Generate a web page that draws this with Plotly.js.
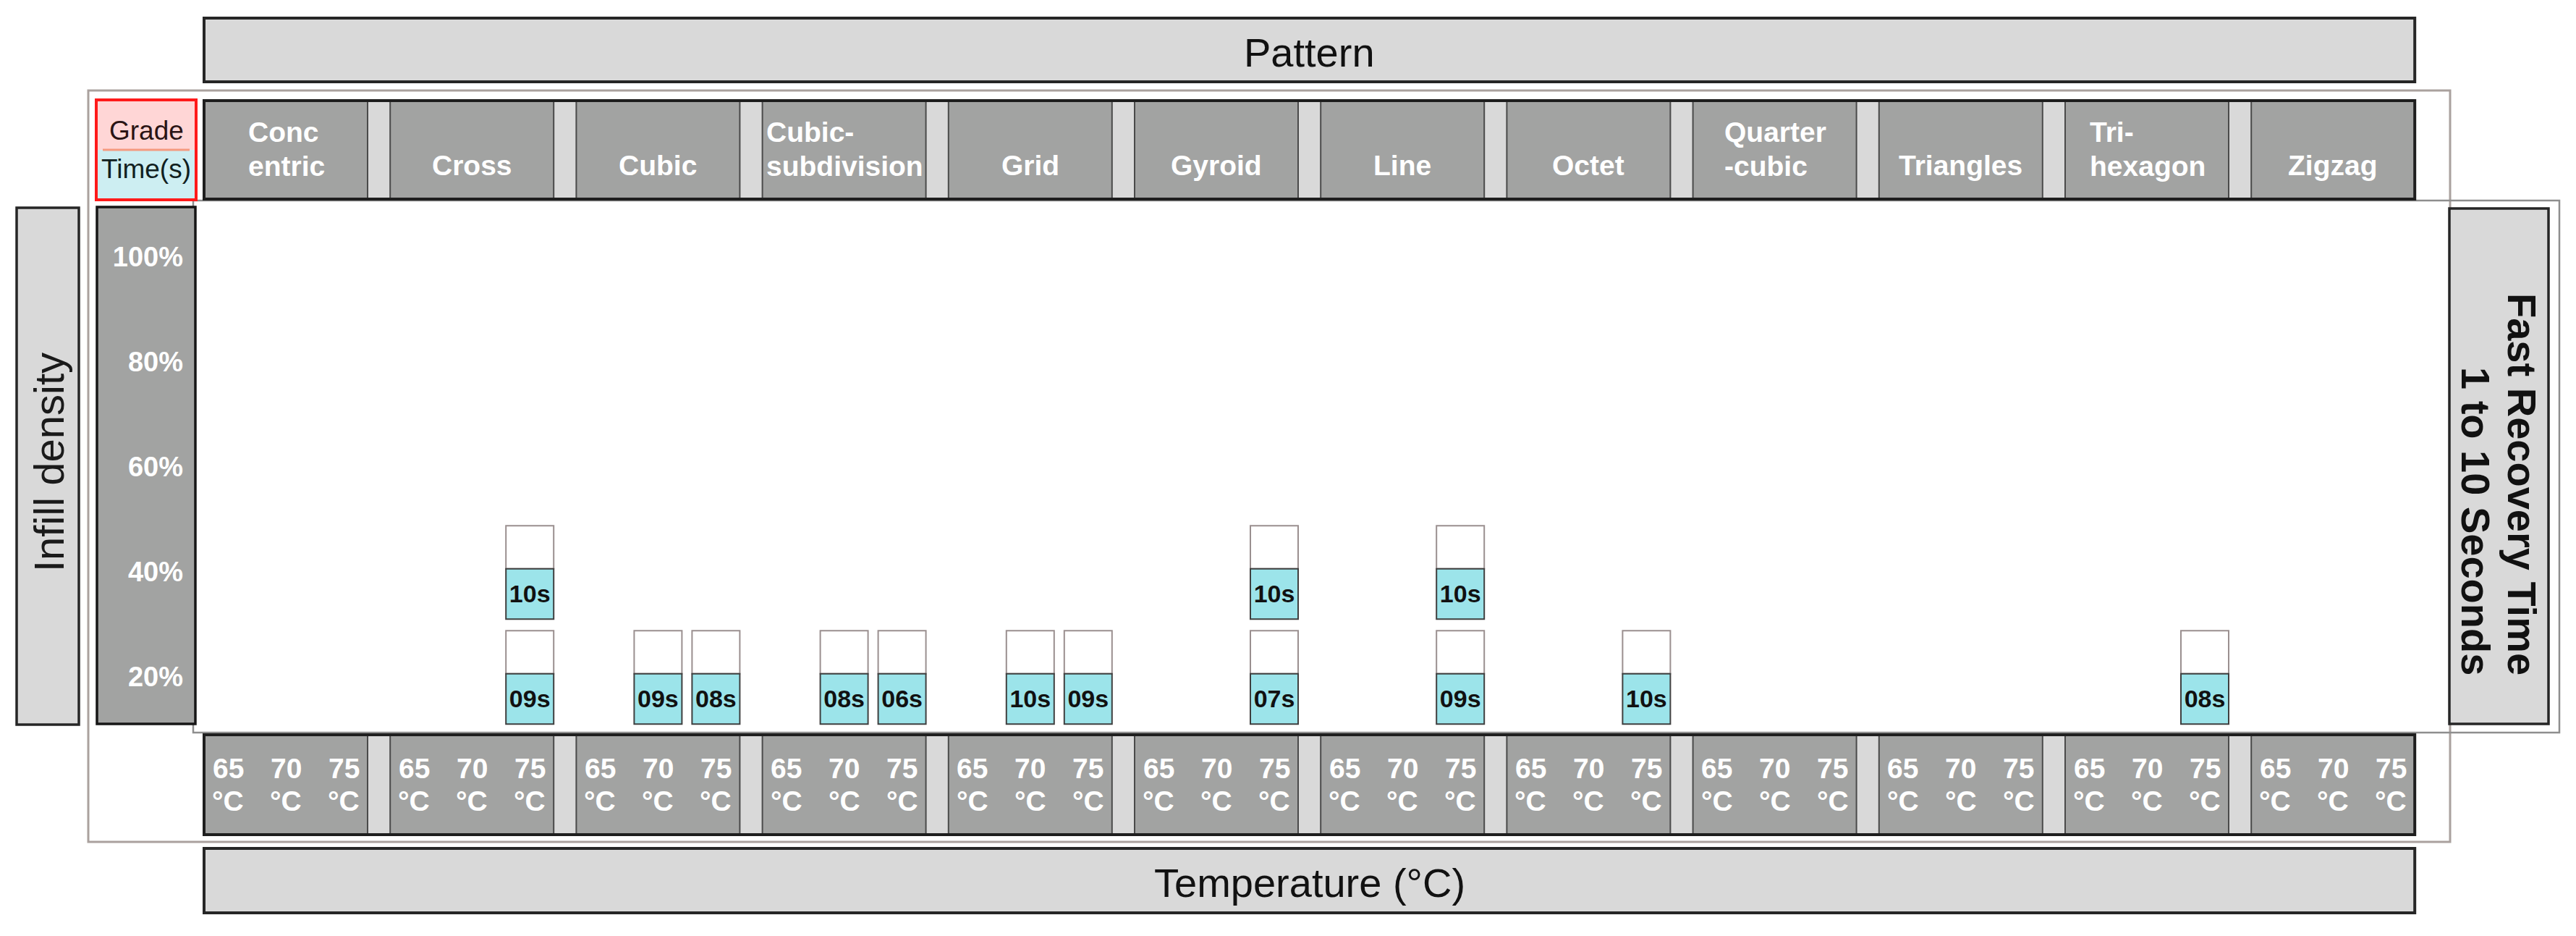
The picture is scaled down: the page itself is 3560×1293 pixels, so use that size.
<!DOCTYPE html>
<html>
<head>
<meta charset="utf-8">
<script src="https://cdn.plot.ly/plotly-3.0.1.min.js"></script>
<style>html,body{margin:0;padding:0;background:#fff;}#chart{width:3560px;height:1293px;}</style>
</head>
<body>
<div id="chart"></div>
<script>
// ---------------- DATA ----------------
const patterns = ['Concentric','Cross','Cubic','Cubic-subdivision','Grid','Gyroid','Line','Octet','Quarter-cubic','Triangles','Tri-hexagon','Zigzag'];
const patternLabels = ['Conc\nentric','Cross','Cubic','Cubic-\nsubdivision','Grid','Gyroid','Line','Octet','Quarter\n-cubic','Triangles','Tri-\nhexagon','Zigzag'];
const temps = [65, 70, 75];
const tempLabels = ['65', '70', '75'];
const tempUnit = '°C';
const densityTicks = [20, 40, 60, 80, 100];
const densityTickText = ['20%', '40%', '60%', '80%', '100%'];

const cellPattern = ['Cross','Cross','Cubic','Cubic','Cubic-subdivision','Cubic-subdivision','Grid','Grid','Gyroid','Gyroid','Line','Line','Octet','Tri-hexagon'];
const cellTemp    = [75, 75, 70, 75, 70, 75, 70, 75, 75, 75, 75, 75, 75, 75];
const cellDensity = [40, 20, 20, 20, 20, 20, 20, 20, 40, 20, 40, 20, 20, 20];
const cellTime    = [10, 9, 9, 8, 8, 6, 10, 9, 10, 7, 10, 9, 10, 8];

// ---------------- LAYOUT CONSTANTS ----------------
const W = 3560, H = 1293;
const PITCH = 257.2, BOXW = 226, COLOFF = [33, 113, 193], CELLW = 66;
const FONT = '"Liberation Sans", Arial, Helvetica, sans-serif';
const px = v => v / W;
const py = v => 1 - v / H;
const pxToDens = p => 20 + (935 - p) / 7.25;

const catX = name => patterns.indexOf(name) * PITCH;
const cellX = cellPattern.map((p, k) => catX(p) + COLOFF[temps.indexOf(cellTemp[k])]);
const lastX = (patterns.length - 1) * PITCH + BOXW;

// measure text widths
const cvs = document.createElement('canvas').getContext('2d');
function textW(t, size, bold) { cvs.font = (bold ? 'bold ' : '') + size + 'px "Liberation Sans", Arial'; return cvs.measureText(t).width; }

// ---------------- TRACES ----------------
const whiteTrace = {
  type: 'bar', x: cellX, base: cellDensity.map(d => d + 0.6), y: cellDensity.map(() => 8.2),
  width: CELLW, marker: {color: '#ffffff', line: {color: '#9a8f8f', width: 2}},
  hoverinfo: 'skip', showlegend: false
};
const timeTrace = {
  type: 'bar', x: cellX, base: cellDensity.map(d => d - 9.0), y: cellDensity.map(() => 9.6),
  width: CELLW, marker: {color: '#9ce4ea', line: {color: '#3f3f3f', width: 2}},
  text: cellTime.map(t => String(t).padStart(2, '0') + 's'),
  textposition: 'inside', insidetextanchor: 'middle', constraintext: 'none',
  textfont: {family: FONT, size: 34, color: '#111', weight: 'bold'},
  hoverinfo: 'skip', showlegend: false
};

// ---------------- SHAPES ----------------
const shapes = [];
const rectP = (x0, y0, x1, y1, fill, lc, lw) => shapes.push({type: 'rect', xref: 'paper', yref: 'paper', x0: px(x0), x1: px(x1), y0: py(y1), y1: py(y0), fillcolor: fill, line: {color: lc, width: lw}, layer: 'below'});
const rectX = (x0, y0, x1, y1, fill, lc, lw) => shapes.push({type: 'rect', xref: 'x', yref: 'paper', x0: x0, x1: x1, y0: py(y1), y1: py(y0), fillcolor: fill, line: {color: lc, width: lw}, layer: 'below'});

// outer thin frame and plot panel frame
rectP(122, 125, 3386, 1163, 'rgba(0,0,0,0)', '#aaa19e', 3);
rectP(267, 277, 3537, 1012, 'rgba(0,0,0,0)', '#8e8e8e', 2.5);

// Pattern title box & Temperature title box
rectX(0, 25, lastX, 113, '#d9d9d9', '#262626', 4);
rectX(0, 1172, lastX, 1261, '#d9d9d9', '#262626', 4);

// category header row and temperature row
[[139, 275], [1015, 1153]].forEach(([t, b]) => {
  rectX(0, t, lastX, b, '#d9d9d9', 'rgba(0,0,0,0)', 0);
  patterns.forEach((p, i) => rectX(i * PITCH, t, i * PITCH + BOXW, b, '#a2a3a2', '#4a4a4a', 2));
  rectX(0, t, lastX, b, 'rgba(0,0,0,0)', '#1e1e1e', 4);
});

// Infill density box, y tick strip, fast recovery box
rectP(23, 287, 109, 1001, '#d9d9d9', '#262626', 3.5);
rectP(134, 286, 270, 1000, '#a2a3a2', '#161616', 3.5);
rectP(3385, 288, 3522, 1000, '#d9d9d9', '#262626', 3.5);

// Grade / Time legend box
rectP(133, 138, 271, 207, '#ffd6d6', 'rgba(0,0,0,0)', 0);
rectP(133, 207, 271, 276, '#cdeef2', 'rgba(0,0,0,0)', 0);
shapes.push({type: 'line', xref: 'paper', yref: 'paper', x0: px(142), x1: px(262), y0: py(207), y1: py(207), line: {color: '#f59a80', width: 3}, layer: 'below'});
rectP(133, 138, 271, 276, 'rgba(0,0,0,0)', '#ff1a1a', 4);

// ---------------- ANNOTATIONS ----------------
const annotations = [];
const ann = o => annotations.push(Object.assign({showarrow: false, xanchor: 'center', yanchor: 'middle', borderpad: 0}, o));

ann({xref: 'x', yref: 'paper', x: lastX / 2, y: py(73), text: 'Pattern', font: {family: FONT, size: 56, color: '#111'}});
ann({xref: 'x', yref: 'paper', x: lastX / 2, y: py(1219), text: 'Temperature (°C)', font: {family: FONT, size: 56, color: '#111'}});

patternLabels.forEach((lab, i) => {
  const lines = lab.split('\n');
  const cx = i * PITCH + BOXW / 2;
  const f = {family: FONT, size: 39, color: '#ffffff', weight: 'bold'};
  if (lines.length === 1) {
    ann({xref: 'x', yref: 'paper', x: cx, y: py(228.5), text: lines[0], font: f});
  } else {
    const bw = Math.max(...lines.map(l => textW(l, 39, true)));
    lines.forEach((l, j) => ann({xref: 'x', yref: 'paper', x: cx, xshift: -bw / 2, xanchor: 'left', y: py(j === 0 ? 182 : 229), text: l, font: f}));
  }
  temps.forEach((t, j) => {
    const tf = {family: FONT, size: 39, color: '#ffffff', weight: 'bold'};
    ann({xref: 'x', yref: 'paper', x: i * PITCH + COLOFF[j], y: py(1061), text: tempLabels[j], font: tf});
    ann({xref: 'x', yref: 'paper', x: i * PITCH + COLOFF[j], y: py(1106), text: tempUnit, font: tf});
  });
});

ann({xref: 'paper', yref: 'paper', x: px(202), y: py(180.5), text: 'Grade', font: {family: FONT, size: 37, color: '#2a1414'}});
ann({xref: 'paper', yref: 'paper', x: px(202), y: py(234), text: 'Time(s)', font: {family: FONT, size: 37, color: '#102020'}});

ann({xref: 'paper', yref: 'paper', x: px(67), y: py(639), text: 'Infill density', textangle: -90, font: {family: FONT, size: 58, color: '#1a1a1a'}});

ann({xref: 'paper', yref: 'paper', x: px(3486), y: py(934), yanchor: 'bottom', text: 'Fast Recovery Time', textangle: 90, font: {family: FONT, size: 56, color: '#111', weight: 'bold'}});
ann({xref: 'paper', yref: 'paper', x: px(3422), y: py(934), yanchor: 'bottom', text: '1 to 10 Seconds', textangle: 90, font: {family: FONT, size: 56, color: '#111', weight: 'bold'}});

// ---------------- LAYOUT ----------------
const layout = {
  width: W, height: H,
  margin: {l: 0, r: 0, t: 0, b: 0, pad: 0},
  paper_bgcolor: '#ffffff', plot_bgcolor: 'rgba(0,0,0,0)',
  barmode: 'overlay', showlegend: false,
  xaxis: {domain: [px(270), px(3537)], range: [270 - 282, 3537 - 282], visible: false, fixedrange: true},
  yaxis: {
    domain: [py(1013), py(277)], range: [pxToDens(1013), pxToDens(277)],
    tickvals: densityTicks, ticktext: densityTickText,
    showgrid: false, zeroline: false, showline: false, ticks: '',
    ticklabelstandoff: 16,
    tickfont: {family: FONT, size: 38, color: '#ffffff', weight: 'bold'}, fixedrange: true
  },
  shapes: shapes, annotations: annotations
};

Plotly.newPlot('chart', [whiteTrace, timeTrace], layout, {displayModeBar: false, staticPlot: true});
</script>
</body>
</html>
